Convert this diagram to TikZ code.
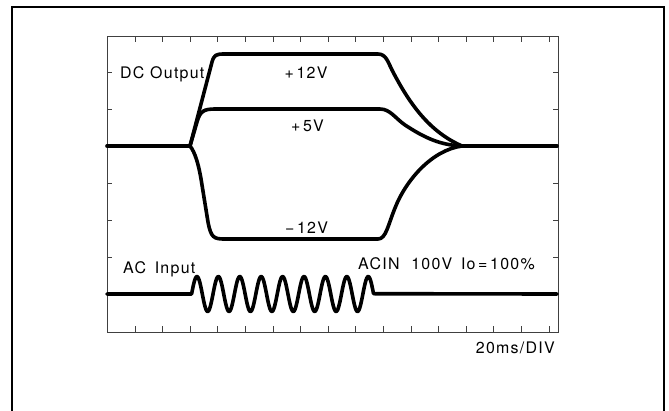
\documentclass[tikz,border=0pt]{standalone}
\usepackage{fontspec}
\setmainfont{TeX Gyre Heros}[LetterSpace=8]
\usepackage{tikz}
\usetikzlibrary{positioning, calc}

\begin{document}
\begin{tikzpicture}[x=1bp, y=-1bp,
    trace/.style={line width=3.6bp, line join=round, line cap=round},
    grat/.style={line width=0.8bp, black!75},
    lbl/.style={font=\fontsize{16}{18}\selectfont, inner sep=0pt}]
\useasboundingbox (0,0) rectangle (669,410);
% outer frame
\draw[line width=1.4bp] (12,412) -- (12,7) -- (664,7) -- (664,412);
% graticule and ticks
\draw[grat] (107,36) rectangle (558,332);
\foreach \i in {0,...,15} {
    \pgfmathsetmacro\tx{135+27.6*\i}
    \draw[grat] (\tx,36) -- (\tx,42);
    \draw[grat] (\tx,332) -- (\tx,326);
}
\foreach \j in {0,...,6} {
    \pgfmathsetmacro\ty{72.5+37*\j}
    \draw[grat] (107,\ty) -- (112,\ty);
    \draw[grat] (558,\ty) -- (553,\ty);
}
% DC outputs
\draw[trace] (107,146) -- (190,146);
\draw[trace] (190,146) -- (212,62) .. controls (214,55) and (216,54) .. (224,54)
    -- (378,54) .. controls (386,54) and (388,62) .. (392,70)
    .. controls (410,105) and (430,132) .. (462,146);
\draw[trace] (190,146) -- (197,122) .. controls (200,111) and (204,109) .. (215,109)
    -- (380,109) .. controls (390,109) and (395,118) .. (405,125)
    .. controls (425,138) and (440,145) .. (462,146);
\draw[trace] (190,146) .. controls (195,152) and (199,165) .. (202,185) -- (208,222)
    .. controls (211,238) and (214,239) .. (225,239) -- (378,239)
    .. controls (386,239) and (388,225) .. (395,208)
    .. controls (406,180) and (432,150) .. (462,146);
\draw[trace] (462,146) -- (557,146);
% AC input (8.5 periods)
\draw[trace] (107,294) -- (191.6,294)
    -- plot[domain=0:8.5, samples=240] ({191.6+21.41*\x}, {294-17.5*sin(360*\x)})
    -- (557,294);
% labels
\node[lbl, anchor=base west] (dcout) at (120,78.5) {DC Output};
\node[lbl, anchor=base] (pos12) at (306,78.5) {+\,12V};
\node[lbl, anchor=base] (pos5) at (307.5,131) {+\,5V};
\node[lbl, anchor=base] (neg12) at (306.5,233.5) {−\,12V};
\node[lbl, anchor=base west] (acin) at (123,273.3) {AC\hspace{3bp} Input};
\node[lbl, anchor=base west] (cond) at (358,269) {ACIN\hspace{6bp} 100V\hspace{3bp} Io\,=\,100\%};
\node[lbl, anchor=base east] (tdiv) at (555,353.3) {20ms/DIV};
\end{tikzpicture}
\end{document}
